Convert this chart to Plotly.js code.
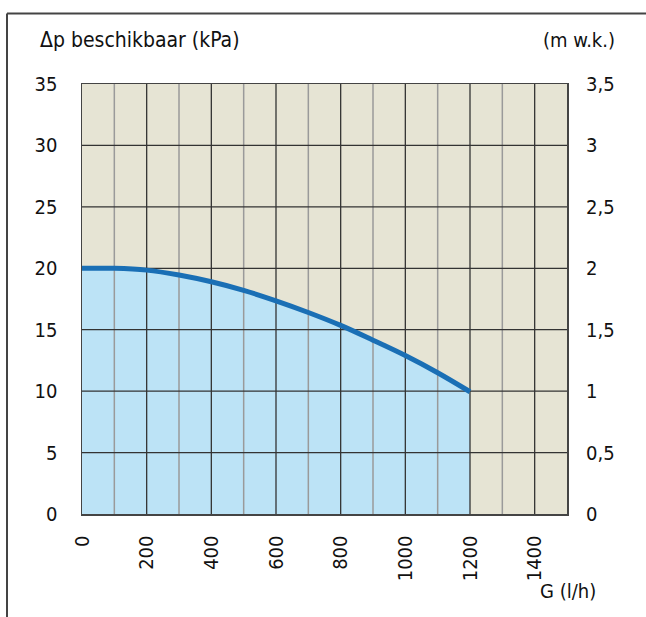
<!DOCTYPE html>
<html>
<head>
<meta charset="utf-8">
<script src="https://cdn.plot.ly/plotly-3.0.1.min.js"></script>
<style>html,body{margin:0;padding:0;background:#fff;}</style>
</head>
<body>
<div id="chart" style="width:646px;height:617px;"></div>
<script>
// Data
const flowG = [0, 100, 200, 300, 400, 500, 600, 700, 800, 900, 1000, 1100, 1200];
const dpKPa = [20, 20, 19.85, 19.45, 18.9, 18.2, 17.35, 16.4, 15.35, 14.15, 12.9, 11.5, 9.95];
const xTickVals = [0, 200, 400, 600, 800, 1000, 1200, 1400];
const xMinorVals = [100, 300, 500, 700, 900, 1100, 1300];
const yTickVals = [0, 5, 10, 15, 20, 25, 30, 35];
const y2TickVals = [0, 0.5, 1, 1.5, 2, 2.5, 3, 3.5];
const y2TickText = ['0', '0,5', '1', '1,5', '2', '2,5', '3', '3,5'];

const FONT = '"Liberation Sans Narrow", "DejaVu Sans Condensed", Arial, sans-serif';
const W = 646, H = 617;
const L = 82, R = 79, T = 84, B = 103;
const pw = W - L - R, ph = H - T - B;

function gridTrace(vals, vertical, color, width) {
  const xs = [], ys = [];
  vals.forEach(v => {
    if (vertical) { xs.push(v, v, null); ys.push(0, 35, null); }
    else { xs.push(0, 1500, null); ys.push(v, v, null); }
  });
  return {x: xs, y: ys, type: 'scatter', mode: 'lines', hoverinfo: 'skip',
          line: {color: color, width: width}, showlegend: false, xaxis: 'x', yaxis: 'y'};
}

const traces = [
  {x: flowG, y: dpKPa, type: 'scatter', mode: 'lines', fill: 'tozeroy',
   fillcolor: '#bce3f6', line: {width: 0, color: 'rgba(0,0,0,0)', shape: 'spline'}, showlegend: false},
  gridTrace(xMinorVals, true, '#9a9a9a', 1.5),
  gridTrace(xTickVals.slice(1), true, '#333333', 1.3),
  gridTrace(yTickVals.slice(1, -1), false, '#333333', 1.3),
  {x: flowG, y: dpKPa, type: 'scatter', mode: 'lines',
   line: {width: 5, color: '#1a6fb5', shape: 'spline'}, showlegend: false},
  {x: [0], y: [0], type: 'scatter', mode: 'markers', marker: {opacity: 0},
   yaxis: 'y2', hoverinfo: 'skip', showlegend: false}
];

const px = v => (v - L) / pw;
const py = v => (H - B - v) / ph;
const TF = {family: FONT, size: 20, color: '#111'};

const layout = {
  width: W, height: H,
  margin: {l: L, r: R, t: T, b: B, pad: 0},
  paper_bgcolor: '#ffffff',
  plot_bgcolor: '#e6e4d4',
  font: TF,
  showlegend: false,
  xaxis: {
    range: [0, 1500], tickvals: xTickVals, tickangle: -90,
    showgrid: false, zeroline: false, showline: true, linecolor: '#444', linewidth: 1.5, mirror: true,
    ticks: '', ticklabelstandoff: 12, tickfont: TF, fixedrange: true
  },
  yaxis: {
    range: [0, 35], tickvals: yTickVals,
    showgrid: false, zeroline: false, showline: true, linecolor: '#444', linewidth: 1.5, mirror: true,
    ticks: '', ticklabelstandoff: 19, tickfont: TF, fixedrange: true
  },
  yaxis2: {
    range: [0, 3.5], tickvals: y2TickVals, ticktext: y2TickText, overlaying: 'y', side: 'right',
    showgrid: false, zeroline: false, showline: false, ticks: '', ticklabelstandoff: 18,
    tickfont: TF, fixedrange: true
  },
  annotations: [
    {text: 'Δp beschikbaar (kPa)', xref: 'paper', yref: 'paper', x: px(38), y: py(40),
     xanchor: 'left', yanchor: 'middle', showarrow: false, font: {family: FONT, size: 21, color: '#111'}},
    {text: '(m w.k.)', xref: 'paper', yref: 'paper', x: px(617), y: py(40),
     xanchor: 'right', yanchor: 'middle', showarrow: false, font: TF},
    {text: 'G (l/h)', xref: 'paper', yref: 'paper', x: px(598), y: py(591),
     xanchor: 'right', yanchor: 'middle', showarrow: false, font: TF}
  ],
  shapes: [
    {type: 'line', xref: 'paper', yref: 'paper', x0: px(7), x1: px(650), y0: py(13.5), y1: py(13.5),
     line: {color: '#444', width: 2}},
    {type: 'line', xref: 'paper', yref: 'paper', x0: px(7), x1: px(7), y0: py(13.5), y1: py(620),
     line: {color: '#444', width: 2}}
  ]
};

Plotly.newPlot('chart', traces, layout, {displayModeBar: false, staticPlot: true});
</script>
</body>
</html>
